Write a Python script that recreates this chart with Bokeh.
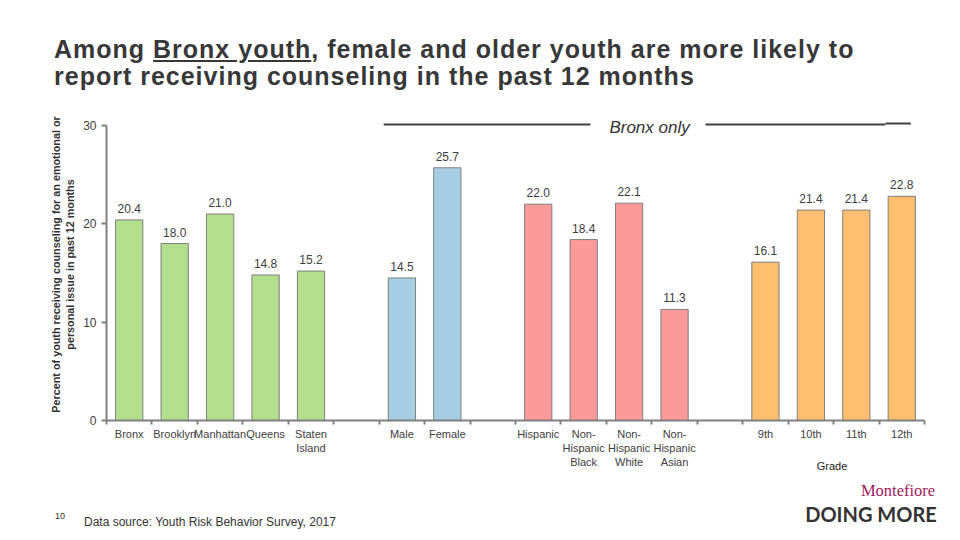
import math
from bokeh.plotting import figure
from bokeh.models import Range1d, FixedTicker, Label, ColumnDataSource, Div
from bokeh.layouts import column
from bokeh.embed import file_html
from bokeh.resources import INLINE
from bokeh.core.properties import value

# ---- data ----
borough_labels = ["Bronx", "Brooklyn", "Manhattan", "Queens", "Staten\nIsland"]
borough_values = [20.4, 18.0, 21.0, 14.8, 15.2]
sex_labels = ["Male", "Female"]
sex_values = [14.5, 25.7]
race_labels = ["Hispanic", "Non-\nHispanic\nBlack", "Non-\nHispanic\nWhite", "Non-\nHispanic\nAsian"]
race_values = [22.0, 18.4, 22.1, 11.3]
grade_labels = ["9th", "10th", "11th", "12th"]
grade_values = [16.1, 21.4, 21.4, 22.8]
grade_title = "Grade"
y_ticks = [0, 10, 20, 30]

group_colors = ["#B3DE8C", "#A6CEE3", "#FB9A99", "#FDBF6F"]
groups = [(borough_labels, borough_values), (sex_labels, sex_values),
          (race_labels, race_values), (grade_labels, grade_values)]

xs, tops, colors, labels = [], [], [], []
pos = 0
for gi, (labs, vals) in enumerate(groups):
    if gi > 0:
        pos += 1  # empty slot between groups
    for lab, v in zip(labs, vals):
        xs.append(pos + 0.5)
        tops.append(v)
        colors.append(group_colors[gi])
        labels.append(lab)
        pos += 1
n_slots = pos

src = ColumnDataSource(dict(x=xs, top=tops, color=colors,
                            txt=["%.1f" % v for v in tops]))

FONT = "Liberation Sans"
TXT = "#404040"
AX = "#808080"

W = 952
DIV_H = 98
P_H = 386
F_OVERLAP = 24
F_H = 52 + F_OVERLAP

title = Div(
    text=('<div style="font-family:\'Liberation Sans\',Arial,sans-serif;font-weight:bold;'
          'font-size:25px;line-height:27px;letter-spacing:1px;color:#383838;'
          'padding:36px 0 0 54px;white-space:nowrap;">'
          'Among <u>Bronx youth</u>, female and older youth are more likely to<br>'
          'report receiving counseling in the past 12 months</div>'),
    width=W, height=DIV_H, margin=(0, 0, 0, 0))

p = figure(width=W, height=P_H, output_backend="svg", toolbar_location=None,
           x_range=Range1d(0, n_slots), y_range=Range1d(0, 31.73),
           min_border_left=106, min_border_right=28, min_border_top=10,
           min_border_bottom=P_H - 10 - 312)
p.margin = (0, 0, 0, 0)
p.outline_line_color = None
p.xgrid.visible = False
p.ygrid.visible = False

p.vbar(x="x", top="top", width=0.6, bottom=0, source=src, fill_color="color",
       line_color="#7F7F7F", line_width=1)
p.text(x="x", y="top", text="txt", source=src, text_align="center",
       text_baseline="bottom", y_offset=-7, text_font=value(FONT),
       text_font_size="12px", text_color=TXT)

# x axis: labels at slot centres, tick marks (minor) at slot boundaries
xa = p.xaxis[0]
xa.ticker = FixedTicker(ticks=xs, minor_ticks=list(range(n_slots + 1)))
xa.major_label_overrides = {x: lab for x, lab in zip(xs, labels)}
xa.major_tick_out = 0
xa.major_tick_in = 0
xa.minor_tick_out = 4
xa.minor_tick_in = 0
xa.minor_tick_line_color = AX
xa.minor_tick_line_width = 2
xa.axis_line_color = AX
xa.axis_line_width = 2
xa.major_label_text_font = FONT
xa.major_label_text_font_size = "11px"
xa.major_label_text_color = TXT
xa.major_label_standoff = 3

# y axis
ya = p.yaxis[0]
ya.ticker = FixedTicker(ticks=y_ticks)
ya.bounds = (0, 30)
ya.major_tick_out = 5
ya.major_tick_in = 0
ya.minor_tick_line_color = None
ya.major_tick_line_color = AX
ya.major_tick_line_width = 2
ya.axis_line_color = AX
ya.axis_line_width = 2
ya.major_label_text_font = FONT
ya.major_label_text_font_size = "12px"
ya.major_label_text_color = TXT
ya.major_label_standoff = 5
ya.axis_label = ("Percent of youth receiving counseling for an emotional or\n"
                 "personal issue in past 12 months")
ya.axis_label_text_font = FONT
ya.axis_label_text_font_size = "10.8px"
ya.axis_label_text_font_style = "bold"
ya.axis_label_text_color = "#333333"
ya.axis_label_standoff = 4

# "Bronx only" header
p.segment(x0=[6.1, 13.18, 17.14], y0=[30.1, 30.1, 30.2],
          x1=[10.65, 17.14, 17.7], y1=[30.1, 30.1, 30.2],
          line_color="#404040", line_width=2)
p.add_layout(Label(x=11.95, y=29.75, text="Bronx only", text_align="center",
                   text_baseline="middle", text_font=FONT, text_font_size="17px",
                   text_font_style="italic", text_color="#333333"))

# footer (HTML), slightly overlapping the bottom of the chart area
FOOT_TOP = DIV_H + P_H - F_OVERLAP

def span(xp, yp, text, style, anchor="center"):
    tx = "-50%" if anchor == "center" else "0"
    return ('<span style="position:absolute;left:%dpx;top:%dpx;white-space:nowrap;'
            'line-height:1;transform:translate(%s,-50%%);%s">%s</span>'
            % (xp, yp - FOOT_TOP, tx, style, text))

base = "font-family:'Liberation Sans',Arial,sans-serif;color:#333333;"
footer_html = ('<div style="position:relative;width:%dpx;height:%dpx;">' % (W, F_H)
               + span(832, 466, grade_title, base + "font-size:11px;color:#222222;")
               + span(60, 516, "10", base + "font-size:9px;")
               + span(84, 522, "Data source: Youth Risk Behavior Survey, 2017",
                      base + "font-size:12px;", anchor="left")
               + span(898, 491, "Montefiore",
                      "font-family:'Liberation Serif',serif;font-size:16.5px;color:#A0195F;")
               + span(871, 514, "DOING MORE",
                      "font-family:Lato,sans-serif;font-weight:bold;font-size:20px;color:#333333;")
               + '</div>')
footer = Div(text=footer_html, width=W, height=F_H, margin=(-F_OVERLAP, 0, 0, 0))

layout = column(title, p, footer, spacing=0)
open("out.html", "w").write(file_html(layout, INLINE))
